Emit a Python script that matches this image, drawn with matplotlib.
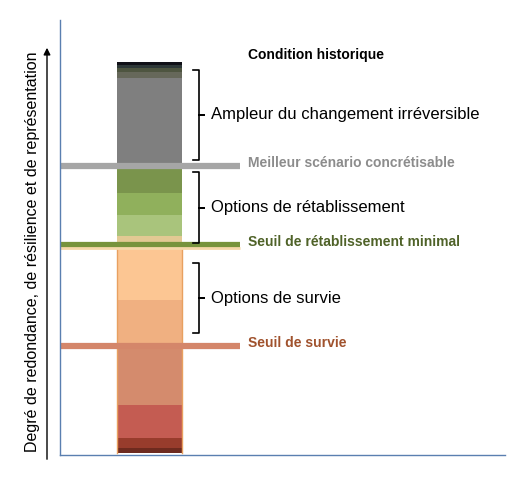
import matplotlib.pyplot as plt

plt.rcParams["font.family"] = ["Liberation Sans", "DejaVu Sans"]

W, H = 529, 484

# bar segments: (top pixel, bottom pixel, colour)
seg_top = [62, 65, 68, 72, 78, 168, 193, 215, 236, 247, 300, 347, 405, 438, 448]
seg_bot = [65, 68, 72, 78, 166, 193, 215, 236, 244, 300, 345, 405, 438, 448, 453]
seg_col = ["#111118", "#2e3838", "#4e5540", "#66685a", "#7f7f7f", "#7a944c", "#90b05c",
           "#a9c47c", "#e2c993", "#fcc693", "#f0b081", "#d48b6d", "#c45c52", "#983c2c", "#6e2a1e"]

threshold_y = [166, 245, 346]
threshold_col = ["#a6a6a6", "#77933c", "#d4866a"]
threshold_lbl = ["Meilleur scénario concrétisable", "Seuil de rétablissement minimal", "Seuil de survie"]
threshold_txt = ["#8c8c8c", "#4f6228", "#a0522d"]

brace_top = [70, 172, 263]
brace_bot = [160, 243, 333]
brace_lbl = ["Ampleur du changement irréversible", "Options de rétablissement", "Options de survie"]

fig = plt.figure(figsize=(W / 100, H / 100), dpi=100)
ax = fig.add_axes([0, 0, 1, 1])
ax.set_xlim(0, W)
ax.set_ylim(H, 0)
ax.axis("off")

for t, b, c in zip(seg_top, seg_bot, seg_col):
    ax.bar(149.5, b - t, bottom=t, width=65, color=c, linewidth=0)
# orange outline on the survival segment
ax.plot([117, 117], [247, 453], color="#e8a060", lw=1)
ax.plot([182, 182], [247, 453], color="#e8a060", lw=1)
ax.plot([117, 182], [347, 347], color="#5a3a2a", lw=1)

for y, c in zip(threshold_y, threshold_col):
    ax.plot([60, 240], [y, y], color=c, lw=4.5, solid_capstyle="butt")
ax.plot([60, 240], [248, 248], color="#f5d7a8", lw=2, solid_capstyle="butt")

for y, lbl, c in zip(threshold_y, threshold_lbl, threshold_txt):
    ax.text(248, y - 3, lbl, color=c, fontsize=10, fontweight="bold", va="center")
ax.text(248, 55, "Condition historique", color="black", fontsize=10, fontweight="bold", va="center")

for t, b, lbl in zip(brace_top, brace_bot, brace_lbl):
    m = (t + b) / 2
    ax.plot([193, 199, 199, 204, 199, 199, 193], [t, t, m, m, m, b, b], color="black", lw=1.2)
    ax.text(211, m, lbl, fontsize=12, va="center")

# axes
ax.plot([60, 60], [20, 455], color="#5a7fb0", lw=1)
ax.plot([60, 505], [455, 455], color="#5a7fb0", lw=1)
ax.annotate("", xy=(47, 45), xytext=(47, 462),
            arrowprops=dict(arrowstyle="-|>", color="black", lw=1))
ax.text(33, 252, "Degré de redondance, de résilience et de représentation",
        rotation=90, fontsize=11.5, va="center", ha="center")

fig.savefig("out.png", dpi=100)
